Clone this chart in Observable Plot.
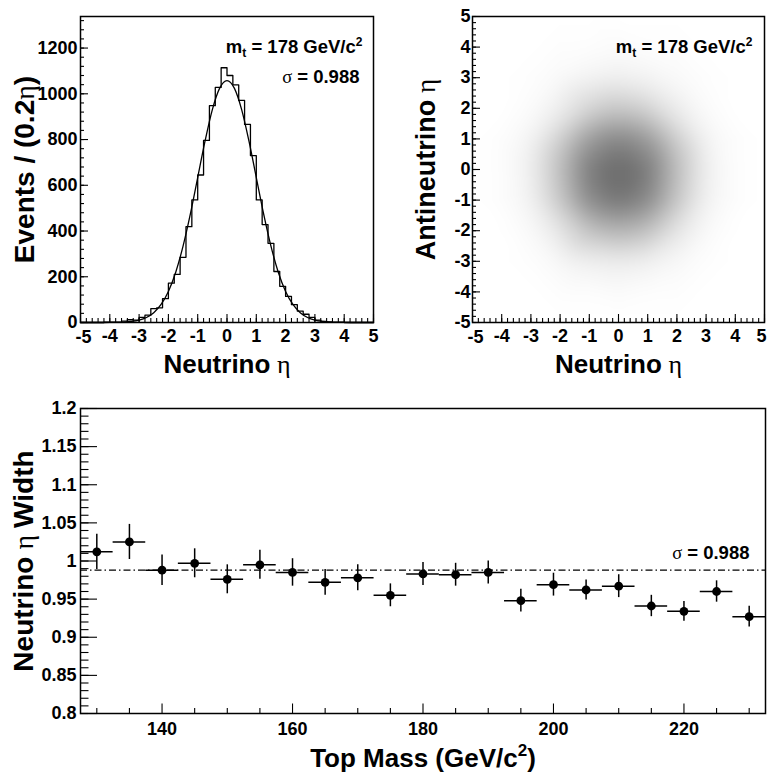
<!DOCTYPE html>
<html>
<head>
<meta charset="utf-8">
<script src="https://cdn.jsdelivr.net/npm/d3@7"></script>
<script src="https://cdn.jsdelivr.net/npm/@observablehq/plot@0.6"></script>
<style>
  html, body { margin: 0; padding: 0; background: #ffffff; }
  #wrap { position: relative; width: 768px; height: 772px; overflow: hidden; background: #ffffff; }
  #wrap > div { position: absolute; }
</style>
</head>
<body>
<div id="wrap">
  <div id="p1" style="left:0px; top:0px;"></div>
  <div id="p2" style="left:384px; top:0px;"></div>
  <div id="p3" style="left:0px; top:390px;"></div>
</div>
<script>
// ---------------- DATA ----------------
// Top-left: neutrino eta histogram (bin low edges, bin width 0.2) and counts
const histBinWidth = 0.2;
const histBinLo = [-5,-4.8,-4.6,-4.4,-4.2,-4,-3.8,-3.6,-3.4,-3.2,-3,-2.8,-2.6,-2.4,-2.2,-2,-1.8,-1.6,-1.4,-1.2,
  -1,-0.8,-0.6,-0.4,-0.2,0,0.2,0.4,0.6,0.8,1,1.2,1.4,1.6,1.8,2,2.2,2.4,2.6,2.8,3,3.2,3.4,3.6,3.8,4,4.2,4.4,4.6,4.8];
const histCounts = [0,0,0,0,1,1,2,6,12,10,22,32,61,64,104,172,210,285,419,536,645,796,948,1028,1114,
  1080,1039,971,866,730,536,428,346,223,158,114,78,50,36,22,10,5,3,2,1,0,0,0,0,0];

// Fitted gaussian curve
const fitX = [-5,-4.5,-4,-3.75,-3.5,-3.25,-3,-2.75,-2.5,-2.25,-2,-1.75,-1.5,-1.25,-1,-0.75,-0.5,-0.25,0,
  0.25,0.5,0.75,1,1.25,1.5,1.75,2,2.25,2.5,2.75,3,3.25,3.5,3.75,4,4.5,5];
const fitY = [0,0,0.3,0.8,2,4.7,10.5,22,43,79,136,220,334,475,634,793,931,1025,1058,
  1025,931,793,634,475,334,220,136,79,43,22,10.5,4.7,2,0.8,0.3,0,0];

// Top-right: neutrino vs antineutrino eta, point density (darkness 0-100) read on a 1-unit grid
const densGridX = [-5,-4,-3,-2,-1,0,1,2,3,4,5];
const densGridY = [5,4,3,2,1,0,-1,-2,-3,-4,-5];
const densRows = [
  [0,0,0,0,0,0,0,0,0,0,0],
  [0,0,0,1,1,2,1,1,0,0,0],
  [0,0,1,3,6,8,6,3,1,0,0],
  [0,0,2,9,23,31,24,10,2,0,0],
  [0,1,6,26,56,68,57,27,6,1,0],
  [0,1,8,36,74,85,75,37,8,1,0],
  [0,1,7,31,66,78,67,32,7,1,0],
  [0,0,3,14,34,43,35,15,3,0,0],
  [0,0,1,4,8,10,8,4,1,0,0],
  [0,0,0,1,1,2,1,1,0,0,0],
  [0,0,0,0,0,0,0,0,0,0,0]
];

// Bottom: neutrino eta width vs top mass
const topMass = [130,135,140,145,150,155,160,165,170,175,180,185,190,195,200,205,210,215,220,225,230];
const etaWidth = [1.012,1.025,0.988,0.997,0.976,0.995,0.985,0.972,0.978,0.955,0.983,0.982,0.985,0.948,
  0.969,0.962,0.967,0.941,0.934,0.960,0.927];
const etaWidthErr = [0.023,0.023,0.020,0.019,0.019,0.019,0.018,0.017,0.017,0.015,0.015,0.015,0.015,0.015,
  0.015,0.013,0.015,0.014,0.013,0.014,0.0135];
const massHalfBin = 2.5;
const sigmaFit = [0.988];
const topMassValue = [178];

// Tick values / labels
const etaMajor = [-5,-4,-3,-2,-1,0,1,2,3,4,5];
const etaMinor = d3.range(-5, 5.001, 0.2);
const countMajor = [0,200,400,600,800,1000,1200];
const countMinor = d3.range(0, 1321, 40);
const massMajor = [140,160,180,200,220];
const massMinor = [130,135,145,150,155,165,170,175,185,190,195,205,210,215,225,230];
const widthMajor = [0.8,0.85,0.9,0.95,1,1.05,1.1,1.15,1.2];
const widthMinor = d3.range(80, 121, 1).map(v => v / 100);

// ---------------- STYLE ----------------
const FONT = '"Liberation Sans", Arial, Helvetica, sans-serif';
const GREEK = '"Liberation Serif", "DejaVu Serif", serif';
const baseStyle = {fontFamily: FONT, fontSize: "18px", fontWeight: "bold", color: "black", background: "white", overflow: "visible"};

// Rich text (sub/superscripts, greek letters) applied to real SVG text
const rich = {
  "Neutrino η": [{t: "Neutrino"}, {t: " η", fw: "normal", ff: GREEK}],
  "Antineutrino η": [{t: "Antineutrino"}, {t: " η", fw: "normal", ff: GREEK}],
  "Events / (0.2η)": [{t: "Events / (0.2"}, {t: "η", fw: "normal", ff: GREEK}, {t: ")"}],
  "Neutrino η Width": [{t: "Neutrino"}, {t: " η ", fw: "normal", ff: GREEK}, {t: "Width"}],
  "Top Mass (GeV/c2)": [{t: "Top Mass (GeV/c"}, {t: "2", fs: "17px", dy: "-11"}, {t: ")", dy: "11"}],
  "mt = 178 GeV/c2": [{t: "m"}, {t: "t", fs: "12px", dy: "4"}, {t: " = 178 GeV/c", dy: "-4"}, {t: "2", fs: "12px", dy: "-7"}],
  "σ = 0.988": [{t: "σ", fw: "normal", ff: GREEK}, {t: " = 0.988"}]
};
function richify(svg) {
  d3.select(svg).selectAll("text").each(function () {
    const key = this.textContent;
    if (!rich[key]) return;
    const el = d3.select(this);
    el.text("");
    for (const s of rich[key]) {
      const ts = el.append("tspan").text(s.t);
      if (s.fw) ts.attr("font-weight", s.fw);
      if (s.ff) ts.attr("font-family", s.ff);
      if (s.fs) ts.attr("font-size", s.fs);
      if (s.dy) ts.attr("dy", s.dy);
    }
  });
  return svg;
}
const massText = d => `mt = ${d} GeV/c2`;
const sigmaText = d => `σ = ${d}`;
const fmt = d => String(d);
const etaInner = etaMajor.slice(1, -1);
const etaFirst = etaMajor.slice(0, 1);
const etaLast = etaMajor.slice(-1);

// ---------------- PANEL 1: histogram ----------------
{
  const W = 384, H = 390, m = {top: 16, right: 11, bottom: 68, left: 80};
  const fw = W - m.left - m.right, fh = H - m.top - m.bottom;
  const histPts = histBinLo.map((x, i) => ({x, n: histCounts[i]}))
    .concat([{x: histBinLo[histBinLo.length - 1] + histBinWidth, n: histCounts[histCounts.length - 1]}]);
  const fitPts = fitX.map((x, i) => ({x, y: fitY[i]}));
  const p = Plot.plot({
    width: W, height: H, marginTop: m.top, marginRight: m.right, marginBottom: m.bottom, marginLeft: m.left,
    style: baseStyle,
    x: {domain: [-5, 5]},
    y: {domain: [0, 1338]},
    marks: [
      Plot.line(histPts, {x: "x", y: "n", curve: "step-after", stroke: "black", strokeWidth: 1.3}),
      Plot.line(fitPts, {x: "x", y: "y", curve: "monotone-x", stroke: "black", strokeWidth: 1.3}),
      Plot.frame({stroke: "black", strokeWidth: 1.5}),
      Plot.tickX(etaMinor, {x: d => d, insetTop: fh - 4, stroke: "black", strokeWidth: 1.1}),
      Plot.tickX(etaMajor, {x: d => d, insetTop: fh - 8, stroke: "black", strokeWidth: 1.1}),
      Plot.tickY(countMinor, {y: d => d, insetRight: fw - 4, stroke: "black", strokeWidth: 1.1}),
      Plot.tickY(countMajor, {y: d => d, insetRight: fw - 8, stroke: "black", strokeWidth: 1.1}),
      Plot.axisX(etaInner, {tickSize: 0, tickPadding: 7, tickFormat: fmt, label: null}),
      Plot.axisX(etaFirst, {tickSize: 0, tickPadding: 8, tickFormat: fmt, label: null, dx: 3}),
      Plot.axisX(etaLast, {tickSize: 0, tickPadding: 7, tickFormat: fmt, label: null}),
      Plot.axisY(countMajor, {tickSize: 0, tickPadding: 3, tickFormat: fmt, label: null}),
      Plot.text(["Neutrino η"], {frameAnchor: "bottom", dy: 50, textAnchor: "middle", lineAnchor: "bottom", fontSize: 26, text: d => d}),
      Plot.text(["Events / (0.2η)"], {frameAnchor: "left", rotate: -90, dx: -47, textAnchor: "middle", lineAnchor: "bottom", fontSize: 28, text: d => d}),
      Plot.text(topMassValue, {frameAnchor: "top-right", dx: -11, dy: 36, textAnchor: "end", lineAnchor: "bottom", fontSize: 18.5, text: massText}),
      Plot.text(sigmaFit, {frameAnchor: "top-right", dx: -14, dy: 66, textAnchor: "end", lineAnchor: "bottom", fontSize: 18.5, text: sigmaText})
    ]
  });
  document.getElementById("p1").appendChild(richify(p));
}

// ---------------- PANEL 2: scatter density ----------------
{
  const W = 384, H = 390, m = {top: 16, right: 4, bottom: 68, left: 88};
  const fw = W - m.left - m.right, fh = H - m.top - m.bottom;
  const densPts = [];
  densGridY.forEach((y, r) => densGridX.forEach((x, c) => densPts.push({x, y, v: densRows[r][c]})));
  const p = Plot.plot({
    width: W, height: H, marginTop: m.top, marginRight: m.right, marginBottom: m.bottom, marginLeft: m.left,
    style: baseStyle,
    x: {domain: [-5, 5]},
    y: {domain: [-5, 5]},
    color: {type: "linear", domain: [0, 100], range: ["#ffffff", "#4c4c4c"]},
    marks: [
      Plot.raster(densPts, {x: "x", y: "y", fill: "v", interpolate: "barycentric", blur: 9}),
      Plot.frame({stroke: "black", strokeWidth: 1.5}),
      Plot.tickX(etaMinor, {x: d => d, insetTop: fh - 4, stroke: "black", strokeWidth: 1.1}),
      Plot.tickX(etaMajor, {x: d => d, insetTop: fh - 8, stroke: "black", strokeWidth: 1.1}),
      Plot.tickY(etaMinor, {y: d => d, insetRight: fw - 4, stroke: "black", strokeWidth: 1.1}),
      Plot.tickY(etaMajor, {y: d => d, insetRight: fw - 8, stroke: "black", strokeWidth: 1.1}),
      Plot.axisX(etaInner, {tickSize: 0, tickPadding: 7, tickFormat: fmt, label: null}),
      Plot.axisX(etaFirst, {tickSize: 0, tickPadding: 8, tickFormat: fmt, label: null, dx: 3}),
      Plot.axisX(etaLast, {tickSize: 0, tickPadding: 7, tickFormat: fmt, label: null, dx: -3}),
      Plot.axisY(etaMajor, {tickSize: 0, tickPadding: 2, tickFormat: fmt, label: null}),
      Plot.text(["Neutrino η"], {frameAnchor: "bottom", dy: 50, textAnchor: "middle", lineAnchor: "bottom", fontSize: 26, text: d => d}),
      Plot.text(["Antineutrino η"], {frameAnchor: "left", rotate: -90, dx: -38, textAnchor: "middle", lineAnchor: "bottom", fontSize: 27, text: d => d}),
      Plot.text(topMassValue, {frameAnchor: "top-right", dx: -12, dy: 36, textAnchor: "end", lineAnchor: "bottom", fontSize: 18.5, text: massText})
    ]
  });
  document.getElementById("p2").appendChild(richify(p));
}

// ---------------- PANEL 3: width vs top mass ----------------
{
  const W = 768, H = 382, m = {top: 18, right: 3, bottom: 59, left: 80};
  const fw = W - m.left - m.right, fh = H - m.top - m.bottom;
  const pts = topMass.map((mm, i) => ({m: mm, w: etaWidth[i], e: etaWidthErr[i]}));
  const p = Plot.plot({
    width: W, height: H, marginTop: m.top, marginRight: m.right, marginBottom: m.bottom, marginLeft: m.left,
    style: baseStyle,
    x: {domain: [topMass[0] - massHalfBin, topMass[topMass.length - 1] + massHalfBin]},
    y: {domain: [0.8, 1.2]},
    marks: [
      Plot.ruleY(sigmaFit, {y: d => d, stroke: "black", strokeWidth: 1.2, strokeDasharray: "7,3,1.5,3"}),
      Plot.ruleY(pts, {y: "w", x1: d => d.m - massHalfBin, x2: d => d.m + massHalfBin, stroke: "black", strokeWidth: 1.5}),
      Plot.ruleX(pts, {x: "m", y1: d => d.w - d.e, y2: d => d.w + d.e, stroke: "black", strokeWidth: 1.5}),
      Plot.dot(pts, {x: "m", y: "w", r: 4.4, fill: "black", stroke: "none"}),
      Plot.frame({stroke: "black", strokeWidth: 1.5}),
      Plot.tickX(massMinor, {x: d => d, insetTop: fh - 5, stroke: "black", strokeWidth: 1.1}),
      Plot.tickX(massMajor, {x: d => d, insetTop: fh - 9.5, stroke: "black", strokeWidth: 1.1}),
      Plot.tickY(widthMinor, {y: d => d, insetRight: fw - 8.5, stroke: "black", strokeWidth: 1.1}),
      Plot.tickY(widthMajor, {y: d => d, insetRight: fw - 17, stroke: "black", strokeWidth: 1.1}),
      Plot.axisX(massMajor, {tickSize: 0, tickPadding: 9, tickFormat: fmt, label: null}),
      Plot.axisY(widthMajor, {tickSize: 0, tickPadding: 4, tickFormat: d => String(+d.toFixed(2)), label: null}),
      Plot.text(["Top Mass (GeV/c2)"], {frameAnchor: "bottom", dy: 53, textAnchor: "middle", lineAnchor: "bottom", fontSize: 26, text: d => d}),
      Plot.text(["Neutrino η Width"], {frameAnchor: "left", rotate: -90, dx: -48, textAnchor: "middle", lineAnchor: "bottom", fontSize: 28, text: d => d}),
      Plot.text(sigmaFit, {y: d => d, frameAnchor: "right", dx: -16, dy: -11, textAnchor: "end", lineAnchor: "bottom", fontSize: 18.5, text: sigmaText})
    ]
  });
  document.getElementById("p3").appendChild(richify(p));
}
</script>
</body>
</html>
